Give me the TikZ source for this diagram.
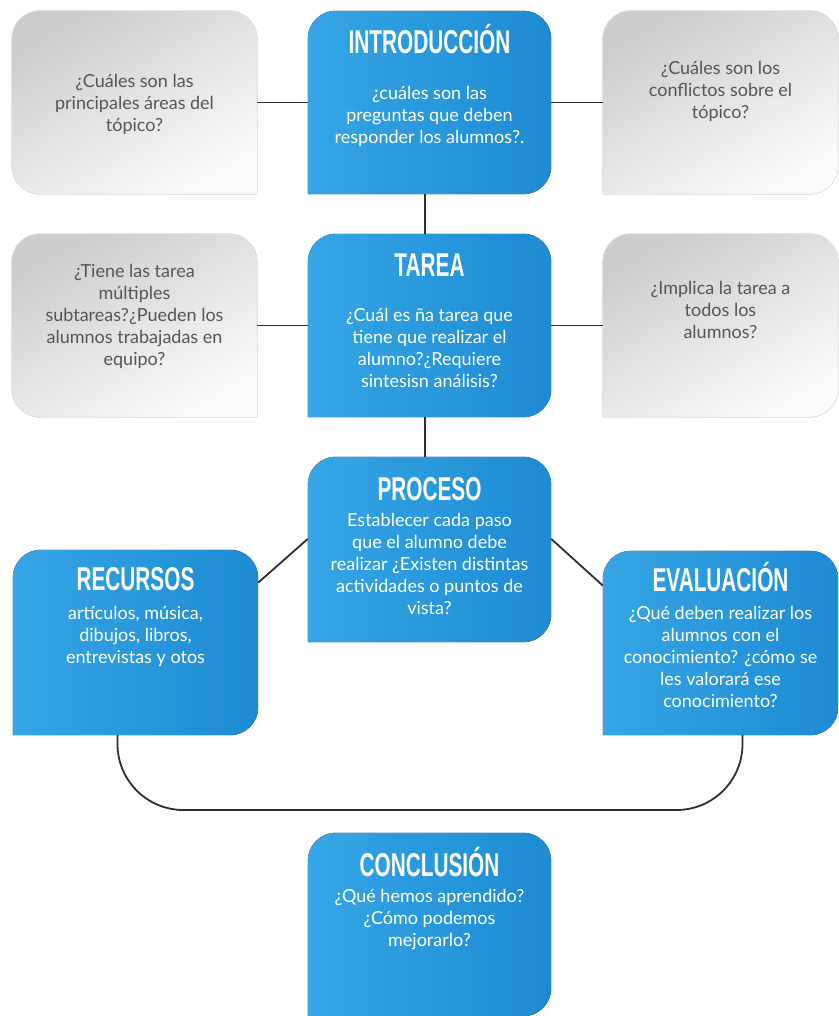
\documentclass[tikz,border=0pt]{standalone}
\usepackage{fontspec}
\setmainfont{Lato}
\newfontfamily\headfont{Liberation Sans}[FakeStretch=0.63]
\usetikzlibrary{positioning,calc}

\definecolor{blueL}{HTML}{36A6E6}
\definecolor{blueR}{HTML}{1D8AD2}
\definecolor{greyD}{HTML}{CDCDCD}
\definecolor{greyL}{HTML}{FBFBFB}
\definecolor{txtgrey}{HTML}{555555}
\definecolor{linecol}{HTML}{2E2E2E}

\tikzset{
  card/.style={minimum width=243pt, minimum height=183pt, inner sep=0pt},
  headtxt/.style={font=\headfont\bfseries\fontsize{33}{33}\selectfont, text=white,
    inner sep=0pt, text height=23.6pt, text depth=0pt},
  bodytxt/.style={font=\fontsize{18}{22}\selectfont, text=white, align=center, inner sep=0pt},
  greytxt/.style={bodytxt, text=txtgrey},
  bluefill/.style={left color=blueL, right color=blueR},
  greyfill/.style={top color=greyD, bottom color=greyL, shading angle=30, draw=black!9, line width=0.6pt},
  conn/.style={draw=linecol, line width=1.8pt}
}
% tab shapes: one sharp corner at the bottom
\newcommand{\tabbl}[2]{\fill[#2] (#1.south) -- (#1.south west) -- (#1.west) [rounded corners=28pt]
  -- (#1.north west) -- (#1.north east) -- (#1.south east) -- cycle;}
\newcommand{\tabbr}[2]{\fill[#2] (#1.south) -- (#1.south east) -- (#1.east) [rounded corners=28pt]
  -- (#1.north east) -- (#1.north west) -- (#1.south west) -- cycle;}

\begin{document}
\begin{tikzpicture}[x=1pt, y=-1pt]
\useasboundingbox (0,0) rectangle (838,1016);
% row 1
\node[card, minimum width=245pt] (areas) at (134.5,102.5) {};
\node[card] (intro) at (429.5,102.5) {};
\node[card, minimum width=235pt] (conflictos) at (720.5,102.5) {};
\tabbr{areas}{greyfill}
\tabbl{intro}{bluefill}
\tabbl{conflictos}{greyfill}
% row 2
\node[card, minimum width=245pt] (subtareas) at (134.5,325.5) {};
\node[card] (tarea) at (429.5,325.5) {};
\node[card, minimum width=235pt] (implica) at (720.5,325.5) {};
\tabbr{subtareas}{greyfill}
\tabbl{tarea}{bluefill}
\tabbl{implica}{greyfill}
% row 3
\node[card, minimum height=185pt] (proceso) at (429.5,549.5) {};
\node[card, minimum width=245pt, minimum height=185pt] (recursos) at (135.5,642.5) {};
\node[card, minimum width=235pt, minimum height=184pt] (evaluacion) at (720.5,643) {};
\tabbl{proceso}{bluefill}
\tabbl{recursos}{bluefill}
\tabbl{evaluacion}{bluefill}
% row 4
\node[card] (conclusion) at (429.5,924.5) {};
\tabbl{conclusion}{bluefill}

% headings
\node[headtxt, below=19pt of intro.north] (introhead) {INTRODUCCIÓN};
\node[headtxt, below=19pt of tarea.north] (tareahead) {TAREA};
\node[headtxt, below=20pt of proceso.north] (procesohead) {PROCESO};
\node[headtxt, below=17pt of recursos.north] (recursoshead) {RECURSOS};
\node[headtxt, below=17pt of evaluacion.north] (evaluacionhead) {EVALUACIÓN};
\node[headtxt, below=20pt of conclusion.north] (conclusionhead) {CONCLUSIÓN};

% texts
\node[greytxt, below=63pt of areas.north] (areastxt) {¿Cuáles son las\\principales áreas del\\tópico?};
\node[bodytxt, below=75pt of intro.north] (introtxt) {¿cuáles son las\\preguntas que deben\\responder los alumnos?.};
\node[greytxt, below=50pt of conflictos.north] (conflictostxt) {¿Cuáles son los\\conflictos sobre el\\tópico?};
\node[greytxt, below=30pt of subtareas.north] (subtareastxt) {¿Tiene las tarea\\múltiples\\subtareas?¿Pueden los\\alumnos trabajadas en\\equipo?};
\node[bodytxt, below=74pt of tarea.north] (tareatxt) {¿Cuál es ña tarea que\\tiene que realizar el\\alumno?¿Requiere\\sintesisn análisis?};
\node[greytxt, below=47pt of implica.north] (implicatxt) {¿Implica la tarea a\\todos los\\alumnos?};
\node[bodytxt, below=56pt of proceso.north] (procesotxt) {Establecer cada paso\\que el alumno debe\\realizar ¿Existen distintas\\actividades o puntos de\\vista?};
\node[bodytxt, below=56pt of recursos.north] (recursostxt) {artículos, música,\\dibujos, libros,\\entrevistas y otos};
\node[bodytxt, below=55pt of evaluacion.north] (evaluaciontxt) {¿Qué deben realizar los\\alumnos con el\\conocimiento? ¿cómo se\\les valorará ese\\conocimiento?};
\node[bodytxt, below=56pt of conclusion.north] (conclusiontxt) {¿Qué hemos aprendido?\\¿Cómo podemos\\mejorarlo?};

% connectors
\draw[conn] (areas.east) -- (intro.west);
\draw[conn] (intro.east) -- (conflictos.west);
\draw[conn] (subtareas.east) -- (tarea.west);
\draw[conn] (tarea.east) -- (implica.west);
\draw[conn] ([xshift=-4.5pt]intro.south) -- ([xshift=-4.5pt]tarea.north);
\draw[conn] ([xshift=-4.5pt]tarea.south) -- ([xshift=-4.5pt]proceso.north);
\draw[conn] (recursos.26) -- (proceso.175);
\draw[conn] (proceso.5) -- (evaluacion.154);
% loop under recursos and evaluacion
\coordinate (loopbase) at (430,810);
\draw[conn, rounded corners=66pt] ([xshift=-18pt]recursos.south) |- (loopbase) -| ([xshift=22pt]evaluacion.south);
\end{tikzpicture}
\end{document}
